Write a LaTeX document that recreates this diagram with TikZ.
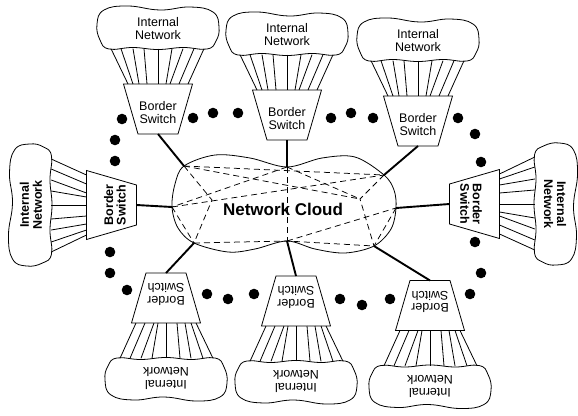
\documentclass[tikz,border=0pt]{standalone}
\usepackage{fontspec}
\setmainfont{Liberation Sans}
\usetikzlibrary{calc}

% One border unit: internal network cloud, fan of links, border switch.
% Drawn facing up, then shifted and turned into place.
\newcommand\netunit[5]{%
  \begin{scope}[shift={(#2,#3)}, rotate=#4, transform shape]
    \draw[thinline] plot[smooth cycle, tension=0.75] coordinates {
      (-49,-60) (-25,-61.5) (0,-59.5) (25,-61.5) (49,-60)
      (58,-68) (61,-82) (55,-97) (32,-102) (2,-99)
      (-30,-103) (-54,-99) (-61,-85) (-58,-69)};
    \node[lbl, font=\fontsize{12.5}{13}\selectfont#5] (#1-net) at (0,-80.5) {Internal\\Network};
    \foreach \u/\l in {-47/-30,-37/-25,-25/-19,-14/-11,0/0,14/8,25/12,36/21,46/30}
      \draw[thinline] (\u,-60.3) -- (\l,-25);
    \draw[thinline] (-34.5,-25) -- (34.5,-25) -- (20,25) -- (-20,25) -- cycle;
    \node[lbl, font=\fontsize{12.5}{12.5}\selectfont#5] (#1-sw) at (0,3.5) {Border\\Switch};
    \coordinate (#1-port) at (0,25);
  \end{scope}}

\begin{document}
\begin{tikzpicture}[x=1pt, y=-1pt,
  thinline/.style={line width=0.8pt},
  link/.style={line width=1.9pt},
  mesh/.style={line width=0.75pt, dash pattern=on 6pt off 4pt},
  lbl/.style={align=center, inner sep=0pt},
  blob/.style={fill=black}]
\useasboundingbox (0,0) rectangle (578,415);

% attachment points on the central cloud
\coordinate (H) at (172,207);
\coordinate (A) at (184,166);
\coordinate (B) at (287,167);
\coordinate (C) at (384,175);
\coordinate (D) at (396,208);
\coordinate (E) at (374,246);
\coordinate (F) at (287,241);
\coordinate (G) at (194,243);
\coordinate (X) at (212,200);
\coordinate (Y) at (360,199);

% central cloud outline
\draw[thinline] plot[smooth cycle, tension=0.55] coordinates {
  (H) (175,184) (A) (215,155) (250,158) (B) (322,158) (355,157) (C)
  (394,190) (D) (391,229) (E) (345,253) (315,249) (F) (255,249)
  (228,252) (G) (178,228)};

% internal mesh
\draw[mesh] (A) -- (C);
\draw[mesh] (B) -- (H);
\draw[mesh] (B) -- (Y);
\draw[mesh] (H) -- (C);
\draw[mesh] (A) -- (Y);
\draw[mesh] (A) -- (X) -- (G);
\draw[mesh] (B) -- (F);
\draw[mesh] (G) -- (F) -- (E);
\draw[mesh] (F) -- (D);
\draw[mesh] (C) -- (Y) -- (E);
\draw[mesh] (D) -- (E);
\draw[mesh] (H) -- (G);

\node[font=\bfseries\fontsize{17}{20}\selectfont, inner sep=0pt] (nc) at (283,209) {Network Cloud};

% border units
\netunit{u1}{158}{109}{0}{}
\netunit{u2}{287}{115}{0}{}
\netunit{u3}{418}{121}{0}{}
\netunit{u4}{474.5}{204}{-90}{\bfseries}
\netunit{u0}{111.5}{205}{90}{\bfseries}
\netunit{u5}{166}{298}{180}{}
\netunit{u6}{296}{301}{180}{}
\netunit{u7}{430}{305.5}{180}{}

% links from the switches into the cloud
\draw[link] (u1-port) -- (A);
\draw[link] (u2-port) -- (B);
\draw[link] (u3-port) -- (C);
\draw[link] (u4-port) -- (D);
\draw[link] (u0-port) -- (H);
\draw[link] (u5-port) -- (G);
\draw[link] (u6-port) -- (F);
\draw[link] (u7-port) -- (E);

% ellipsis dots between the units
\foreach \p in {(122,119),(115,140),(115,161),(193,118),(213,113),(238,113),
  (331,118),(351,113),(373,118),(458,118),(475,134),(481,162),
  (475,242),(481,273),(470,294),(390,299),(362,305),(340,299),
  (254,294),(228,299),(207,294),(127,290),(110,273),(110,252)}
  \fill[blob] \p circle (5.3);
\end{tikzpicture}
\end{document}
